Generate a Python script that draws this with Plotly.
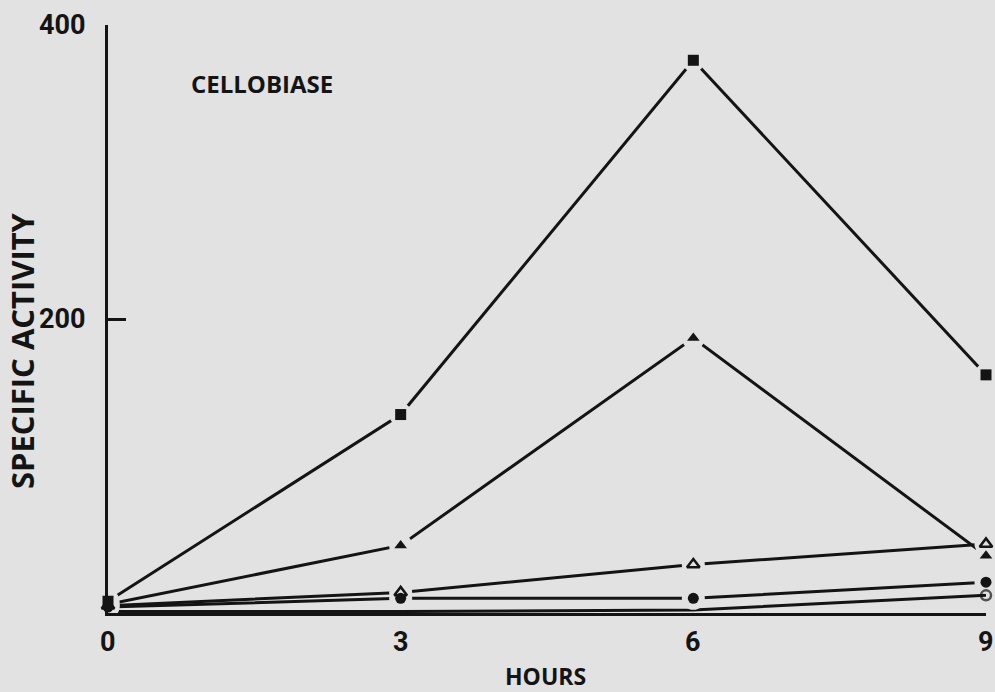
import plotly.graph_objects as go

# Time points (hours) and specific activity of cellobiase per culture
hours = [0, 3, 6, 9]
sq_filled = [8, 135, 376, 162]
tri_filled = [6, 46, 187, 39]
tri_open = [5, 14, 33, 47]
circ_filled = [4, 10, 10, 21]
circ_open = [1, 1, 2, 12]

y_ticks = [200, 400]
x_ticks = [0, 3, 6, 9]

PAGE = "#e2e2e2"
INK = "#141414"
NUM_FONT = "Roboto, DejaVu Sans, sans-serif"
CAP_FONT = "Open Sans, Lato, sans-serif"

# values, symbol, marker size(s), open symbol, break the line around points
series = [
    (sq_filled, "square", 11, False, True),
    (tri_filled, "triangle-up", 11, False, True),
    (tri_open, "triangle-up-open", 11, True, True),
    (circ_filled, "circle", 11, False, True),
    (circ_open, "circle-open", [0, 0, 0, 10], True, False),
]

fig = go.Figure()

# connecting lines
for ys, sym, size, is_open, halo in series:
    fig.add_trace(go.Scatter(x=hours, y=ys, mode="lines",
                             line=dict(color=INK, width=3),
                             cliponaxis=False, hoverinfo="skip"))

# page-coloured halos break the lines around each point
for ys, sym, size, is_open, halo in series:
    if not halo:
        continue
    fig.add_trace(go.Scatter(x=hours, y=ys, mode="markers",
                             marker=dict(symbol="circle", size=size + 12,
                                         color=PAGE, line=dict(width=0)),
                             cliponaxis=False, hoverinfo="skip"))

# point symbols
for ys, sym, size, is_open, halo in series:
    fig.add_trace(go.Scatter(x=hours, y=ys, mode="markers",
                             marker=dict(symbol=sym, size=size, color=INK,
                                         line=dict(color=INK, width=2.5 if is_open else 0)),
                             cliponaxis=False))

num_font = dict(family=NUM_FONT, size=27, color=INK, weight="bold")

annotations = [
    dict(text="CELLOBIASE", x=1.58, y=360, xref="x", yref="y", showarrow=False,
         xanchor="center", yanchor="middle",
         font=dict(family=CAP_FONT, size=24, color=INK, weight="bold")),
    dict(text="SPECIFIC ACTIVITY", x=-0.098, y=0.447, xref="paper", yref="paper",
         xanchor="center", yanchor="middle", textangle=-90, showarrow=False,
         font=dict(family=CAP_FONT, size=31, color=INK, weight="bold")),
    dict(text="HOURS", x=0.498, y=-0.107, xref="paper", yref="paper", showarrow=False,
         xanchor="center", yanchor="middle",
         font=dict(family=CAP_FONT, size=23, color=INK, weight="bold")),
]
# hour labels under the axis
for h in x_ticks:
    annotations.append(dict(text=str(h), x=h, y=-0.049, xref="x", yref="paper",
                            xanchor="center", yanchor="middle", showarrow=False,
                            font=num_font))

fig.update_layout(
    width=995, height=692,
    margin=dict(l=108, r=9, t=25, b=79),
    paper_bgcolor=PAGE, plot_bgcolor=PAGE,
    showlegend=False,
    xaxis=dict(range=[0, 9], showticklabels=False,
               showgrid=False, zeroline=False, showline=True, linecolor=INK, linewidth=3,
               ticks=""),
    yaxis=dict(range=[0, 400], tickvals=y_ticks, ticktext=[str(v) for v in y_ticks],
               showgrid=False, zeroline=False, showline=True, linecolor=INK, linewidth=3,
               ticks="inside", ticklen=18, tickwidth=3, tickcolor=INK, ticklabelstandoff=14,
               tickfont=num_font),
    annotations=annotations,
)

fig.write_html("out.html")
